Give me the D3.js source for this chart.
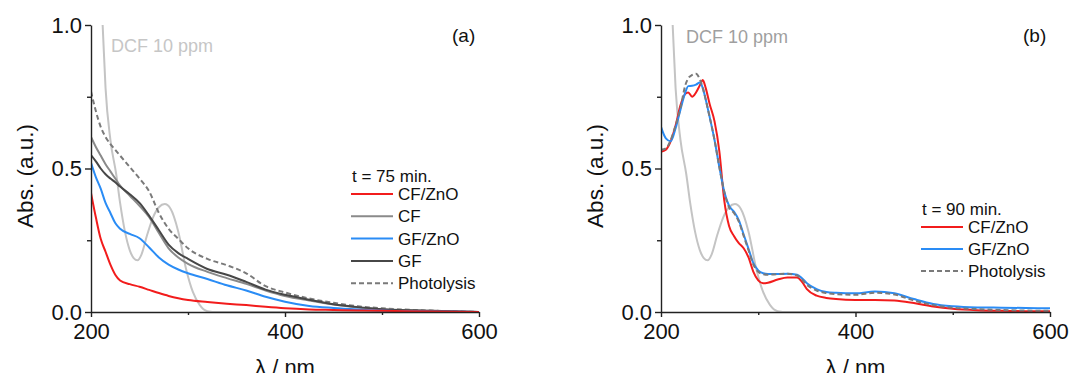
<!DOCTYPE html>
<html>
<head>
<meta charset="utf-8">
<script src="https://cdn.jsdelivr.net/npm/d3@7"></script>
<style>
  body { margin: 0; background: #fff; }
  svg { display: block; font-family: "Liberation Sans", Arial, sans-serif; }
</style>
</head>
<body>
<div id="chart"></div>
<script>
// DCF 10 ppm reference spectrum (same in both panels)
var dcfLambda = [200, 205, 210, 212, 215, 220, 226, 230, 235, 240, 244, 248, 252, 258, 264, 270, 276, 282, 290, 298, 305, 312, 320, 330, 400, 600];
var dcfAbs    = [1.9, 1.45, 1.12, 1.0, 0.78, 0.6, 0.48, 0.38, 0.28, 0.215, 0.188, 0.18, 0.2, 0.27, 0.33, 0.365, 0.376, 0.36, 0.28, 0.15, 0.07, 0.025, 0.003, 0, 0, 0];

// panel (a), t = 75 min
var lambdaA = [200, 205, 210, 215, 220, 225, 230, 240, 250, 260, 270, 280, 290, 300, 320, 340, 360, 380, 400, 425, 450, 475, 500, 550, 600];
var cfZnoA  = [0.415, 0.33, 0.255, 0.21, 0.165, 0.13, 0.11, 0.097, 0.088, 0.077, 0.066, 0.056, 0.048, 0.042, 0.035, 0.029, 0.024, 0.018, 0.013, 0.009, 0.007, 0.005, 0.004, 0.002, 0];
var cfA     = [0.61, 0.575, 0.545, 0.515, 0.49, 0.465, 0.44, 0.405, 0.37, 0.33, 0.275, 0.222, 0.19, 0.168, 0.14, 0.118, 0.098, 0.075, 0.056, 0.04, 0.026, 0.016, 0.01, 0.004, 0];
var gfZnoA  = [0.52, 0.47, 0.43, 0.38, 0.345, 0.31, 0.29, 0.272, 0.257, 0.225, 0.19, 0.165, 0.148, 0.135, 0.115, 0.093, 0.075, 0.053, 0.036, 0.021, 0.014, 0.009, 0.005, 0.002, 0];
var gfA     = [0.547, 0.525, 0.5, 0.48, 0.465, 0.452, 0.437, 0.41, 0.38, 0.335, 0.285, 0.235, 0.205, 0.185, 0.15, 0.13, 0.105, 0.078, 0.06, 0.043, 0.027, 0.017, 0.01, 0.004, 0];
var photoA  = [0.768, 0.7, 0.645, 0.61, 0.585, 0.565, 0.545, 0.505, 0.465, 0.42, 0.345, 0.29, 0.255, 0.222, 0.185, 0.163, 0.135, 0.09, 0.068, 0.047, 0.032, 0.02, 0.013, 0.005, 0];

// panel (b), t = 90 min
var lambdaB = [200, 205, 210, 215, 220, 225, 228, 232, 236, 240, 243, 246, 250, 255, 260, 265, 270, 275, 280, 285, 290, 295, 300, 305, 310, 320, 330, 340, 345, 350, 360, 370, 380, 400, 420, 440, 460, 480, 500, 525, 550, 575, 600];
var cfZnoB  = [0.558, 0.565, 0.595, 0.65, 0.72, 0.76, 0.765, 0.75, 0.765, 0.79, 0.808, 0.78, 0.725, 0.665, 0.56, 0.39, 0.3, 0.265, 0.24, 0.222, 0.19, 0.14, 0.11, 0.1, 0.102, 0.113, 0.12, 0.12, 0.105, 0.08, 0.057, 0.049, 0.045, 0.042, 0.042, 0.04, 0.031, 0.019, 0.011, 0.006, 0.004, 0.003, 0.003];
var gfZnoB  = [0.645, 0.605, 0.595, 0.64, 0.705, 0.765, 0.787, 0.788, 0.792, 0.8, 0.78, 0.74, 0.68, 0.6, 0.505, 0.42, 0.37, 0.35, 0.32, 0.27, 0.22, 0.17, 0.145, 0.135, 0.132, 0.132, 0.133, 0.13, 0.118, 0.1, 0.08, 0.07, 0.067, 0.065, 0.071, 0.065, 0.045, 0.028, 0.02, 0.016, 0.015, 0.014, 0.013];
var photoB  = [0.565, 0.57, 0.6, 0.65, 0.71, 0.79, 0.814, 0.826, 0.83, 0.81, 0.78, 0.74, 0.68, 0.6, 0.505, 0.42, 0.365, 0.345, 0.315, 0.265, 0.215, 0.165, 0.14, 0.132, 0.13, 0.132, 0.133, 0.127, 0.113, 0.095, 0.075, 0.066, 0.062, 0.06, 0.067, 0.061, 0.04, 0.024, 0.015, 0.01, 0.007, 0.005, 0.004];

var xTicks = [200, 400, 600],
    xMinor = [300, 500],
    yTicks = [0, 0.5, 1],
    yMinor = [0.25, 0.75];

var W = 1070, H = 373;
var font = '"Liberation Sans", Arial, sans-serif';

var svg = d3.select("#chart").append("svg")
    .attr("width", W)
    .attr("height", H);

function zip(xs, ys) {
  return xs.map(function(x, i) { return [x, ys[i]]; });
}

function drawPanel(p) {
  var x = d3.scaleLinear().domain([200, 600]).range([p.left, p.right]);
  var y = d3.scaleLinear().domain([0, 1]).range([312, 25]);

  var g = svg.append("g");

  // clip lines to the plot box
  g.append("clipPath").attr("id", "clip" + p.id)
    .append("rect")
    .attr("x", p.left).attr("y", 25)
    .attr("width", p.right - p.left + 2).attr("height", 312 - 25);

  var line = d3.line()
      .x(function(d) { return x(d[0]); })
      .y(function(d) { return y(d[1]); })
      .curve(d3.curveMonotoneX);

  var plot = g.append("g").attr("clip-path", "url(#clip" + p.id + ")");

  p.series.forEach(function(s) {
    plot.append("path")
      .datum(zip(s.x, s.y))
      .attr("fill", "none")
      .attr("stroke", s.color)
      .attr("stroke-width", s.width || 2)
      .attr("stroke-dasharray", s.dash || null)
      .attr("d", line);
  });

  // axes
  g.append("g")
      .attr("transform", "translate(0,312)")
      .call(d3.axisBottom(x).tickValues(xTicks).tickSize(5).tickSizeOuter(0).tickPadding(6));
  g.append("g")
      .attr("transform", "translate(0,312)")
      .call(d3.axisBottom(x).tickValues(xMinor).tickSize(3).tickFormat(""))
      .select(".domain").remove();

  g.append("g")
      .attr("transform", "translate(" + p.left + ",0)")
      .call(d3.axisLeft(y).tickValues(yTicks).tickSize(6).tickSizeOuter(0).tickPadding(3)
            .tickFormat(d3.format(".1f")));
  g.append("g")
      .attr("transform", "translate(" + p.left + ",0)")
      .call(d3.axisLeft(y).tickValues(yMinor).tickSize(4).tickFormat(""))
      .select(".domain").remove();

  g.selectAll(".domain, .tick line").attr("stroke", "#222").attr("stroke-width", 1.4);
  g.selectAll(".tick text")
      .attr("font-family", font)
      .attr("font-size", 22)
      .attr("fill", "#111");

  // axis titles (the x title is cut by the bottom edge, as in the original)
  g.append("text")
      .attr("x", (p.left + p.right) / 2)
      .attr("y", 375)
      .attr("text-anchor", "middle")
      .attr("font-size", 22)
      .attr("fill", "#111")
      .text("\u03bb / nm");

  g.append("text")
      .attr("transform", "translate(" + (p.left - 58) + ",176) rotate(-90)")
      .attr("text-anchor", "middle")
      .attr("font-size", 22.5)
      .attr("fill", "#111")
      .text("Abs. (a.u.)");

  // panel tag and DCF label
  g.append("text")
      .attr("x", p.tagX).attr("y", 42)
      .attr("font-size", 19)
      .attr("fill", "#111")
      .text(p.tag);

  g.append("text")
      .attr("x", p.dcfX).attr("y", p.dcfY)
      .attr("font-size", 18)
      .attr("fill", p.dcfColor)
      .text("DCF 10 ppm");

  // legend
  var lg = g.append("g");
  lg.append("text")
      .attr("x", p.legX + 1).attr("y", p.legY)
      .attr("font-size", 17)
      .attr("fill", "#111")
      .text(p.legTitle);

  p.legend.forEach(function(s, i) {
    var ly = p.legY + 12 + i * p.legStep;
    lg.append("line")
      .attr("x1", p.legX).attr("x2", p.legX + 42)
      .attr("y1", ly).attr("y2", ly)
      .attr("stroke", s.color)
      .attr("stroke-width", 2)
      .attr("stroke-dasharray", s.dash || null);
    lg.append("text")
      .attr("x", p.legX + 47).attr("y", ly)
      .attr("dy", "0.36em")
      .attr("font-size", 17)
      .attr("fill", "#111")
      .text(s.name);
  });
}

var red = "#f21c1c", blue = "#2a8cf5", cfGray = "#8a8a8a", gfGray = "#474747", photoGray = "#7a7a7a", dcfGray = "#c4c4c4";
var dash = "5,3";

var sDcf = {x: dcfLambda, y: dcfAbs, color: dcfGray};

var sCfZnoA = {x: lambdaA, y: cfZnoA, color: red, name: "CF/ZnO"},
    sCfA    = {x: lambdaA, y: cfA, color: cfGray, name: "CF"},
    sGfZnoA = {x: lambdaA, y: gfZnoA, color: blue, name: "GF/ZnO"},
    sGfA    = {x: lambdaA, y: gfA, color: gfGray, name: "GF"},
    sPhotoA = {x: lambdaA, y: photoA, color: photoGray, dash: dash, name: "Photolysis"};

var sCfZnoB = {x: lambdaB, y: cfZnoB, color: red, name: "CF/ZnO"},
    sGfZnoB = {x: lambdaB, y: gfZnoB, color: blue, name: "GF/ZnO"},
    sPhotoB = {x: lambdaB, y: photoB, color: photoGray, dash: dash, name: "Photolysis"};

drawPanel({
  id: "a", left: 91, right: 479,
  tag: "(a)", tagX: 452,
  dcfX: 111, dcfY: 52, dcfColor: "#c6c6c6",
  legX: 351, legY: 182, legStep: 22.3, legTitle: "t = 75 min.",
  series: [sDcf, sPhotoA, sCfA, sGfA, sGfZnoA, sCfZnoA],
  legend: [sCfZnoA, sCfA, sGfZnoA, sGfA, sPhotoA]
});

drawPanel({
  id: "b", left: 661, right: 1050,
  tag: "(b)", tagX: 1023,
  dcfX: 686, dcfY: 43, dcfColor: "#9f9f9f",
  legX: 921, legY: 215, legStep: 22, legTitle: "t = 90 min.",
  series: [sDcf, sCfZnoB, sGfZnoB, sPhotoB],
  legend: [sCfZnoB, sGfZnoB, sPhotoB]
});
</script>
</body>
</html>
